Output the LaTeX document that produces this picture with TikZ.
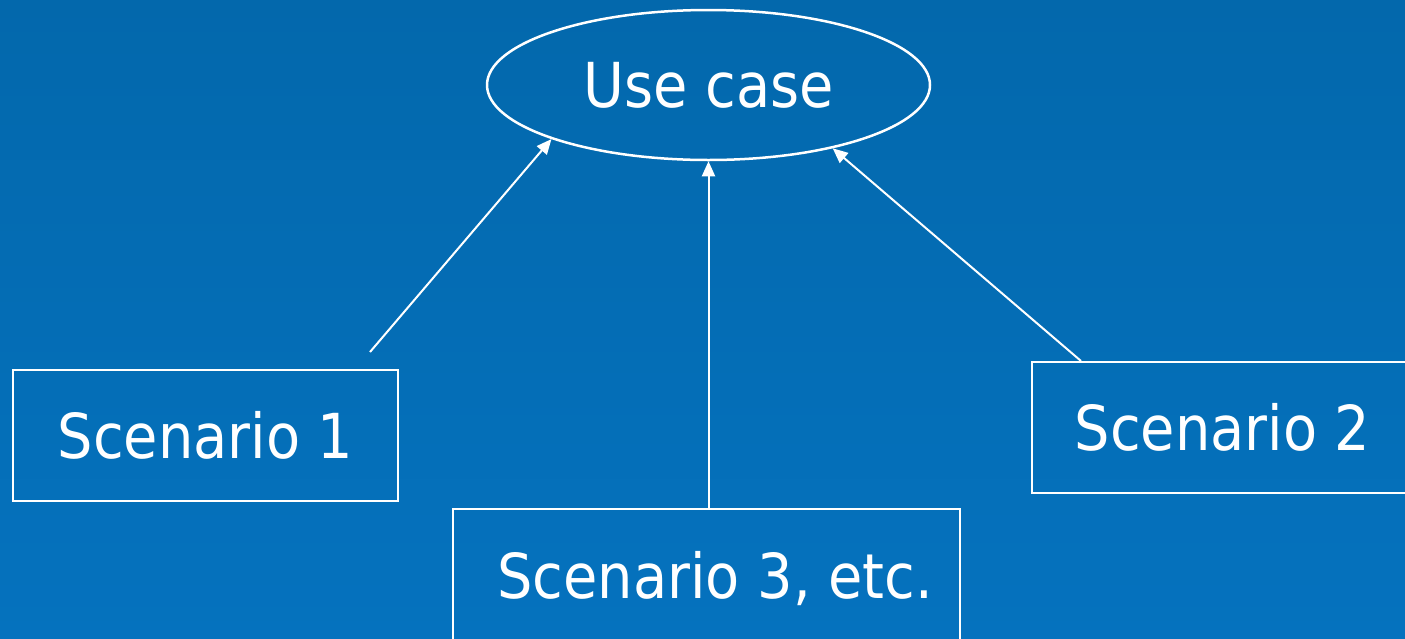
\documentclass[tikz,border=0pt]{standalone}
\usepackage{fontspec}
\setmainfont{DejaVu Sans Condensed}
\usetikzlibrary{arrows.meta,shapes.geometric}
\definecolor{bgtop}{RGB}{3,104,172}
\definecolor{bgbot}{RGB}{5,114,190}
\begin{document}
\begin{tikzpicture}[x=1pt,y=-1pt,
  every node/.style={text=white, font=\fontsize{62}{70}\selectfont},
  scen/.style={draw=white, line width=2pt, rectangle, inner sep=0pt},
  usecase/.style={draw=white, line width=2.5pt, ellipse, inner sep=0pt,
    minimum width=443pt, minimum height=150pt},
  link/.style={draw=white, line width=2pt, -{Triangle[length=15pt,width=13pt]}}]
\useasboundingbox (0,0) rectangle (1405,638);
\clip (0,0) rectangle (1405,638);
\fill[top color=bgtop, bottom color=bgbot] (0,0) rectangle (1405,638);

% the use case and its scenarios
\node[usecase] (uc) at (708.5,85) {Use case};
\node[scen, minimum width=385pt, minimum height=131pt] (s1) at (205.5,435.5) {Scenario 1};
\node[scen, minimum width=381pt, minimum height=131pt] (s2) at (1222.5,427.5) {Scenario 2};
\node[scen, minimum width=507pt, minimum height=140pt] (s3) at (706.5,579) {\ Scenario 3, etc.};

% loose ends of the slanted connectors
\coordinate (a1) at (370,352);
\coordinate (a3) at (1081,361);

\draw[link] (a1) -- (uc.199.5);
\draw[link] (s3.north -| uc.south) -- (uc.south);
\draw[link] (a3) -- (uc.333.0);
\end{tikzpicture}
\end{document}
